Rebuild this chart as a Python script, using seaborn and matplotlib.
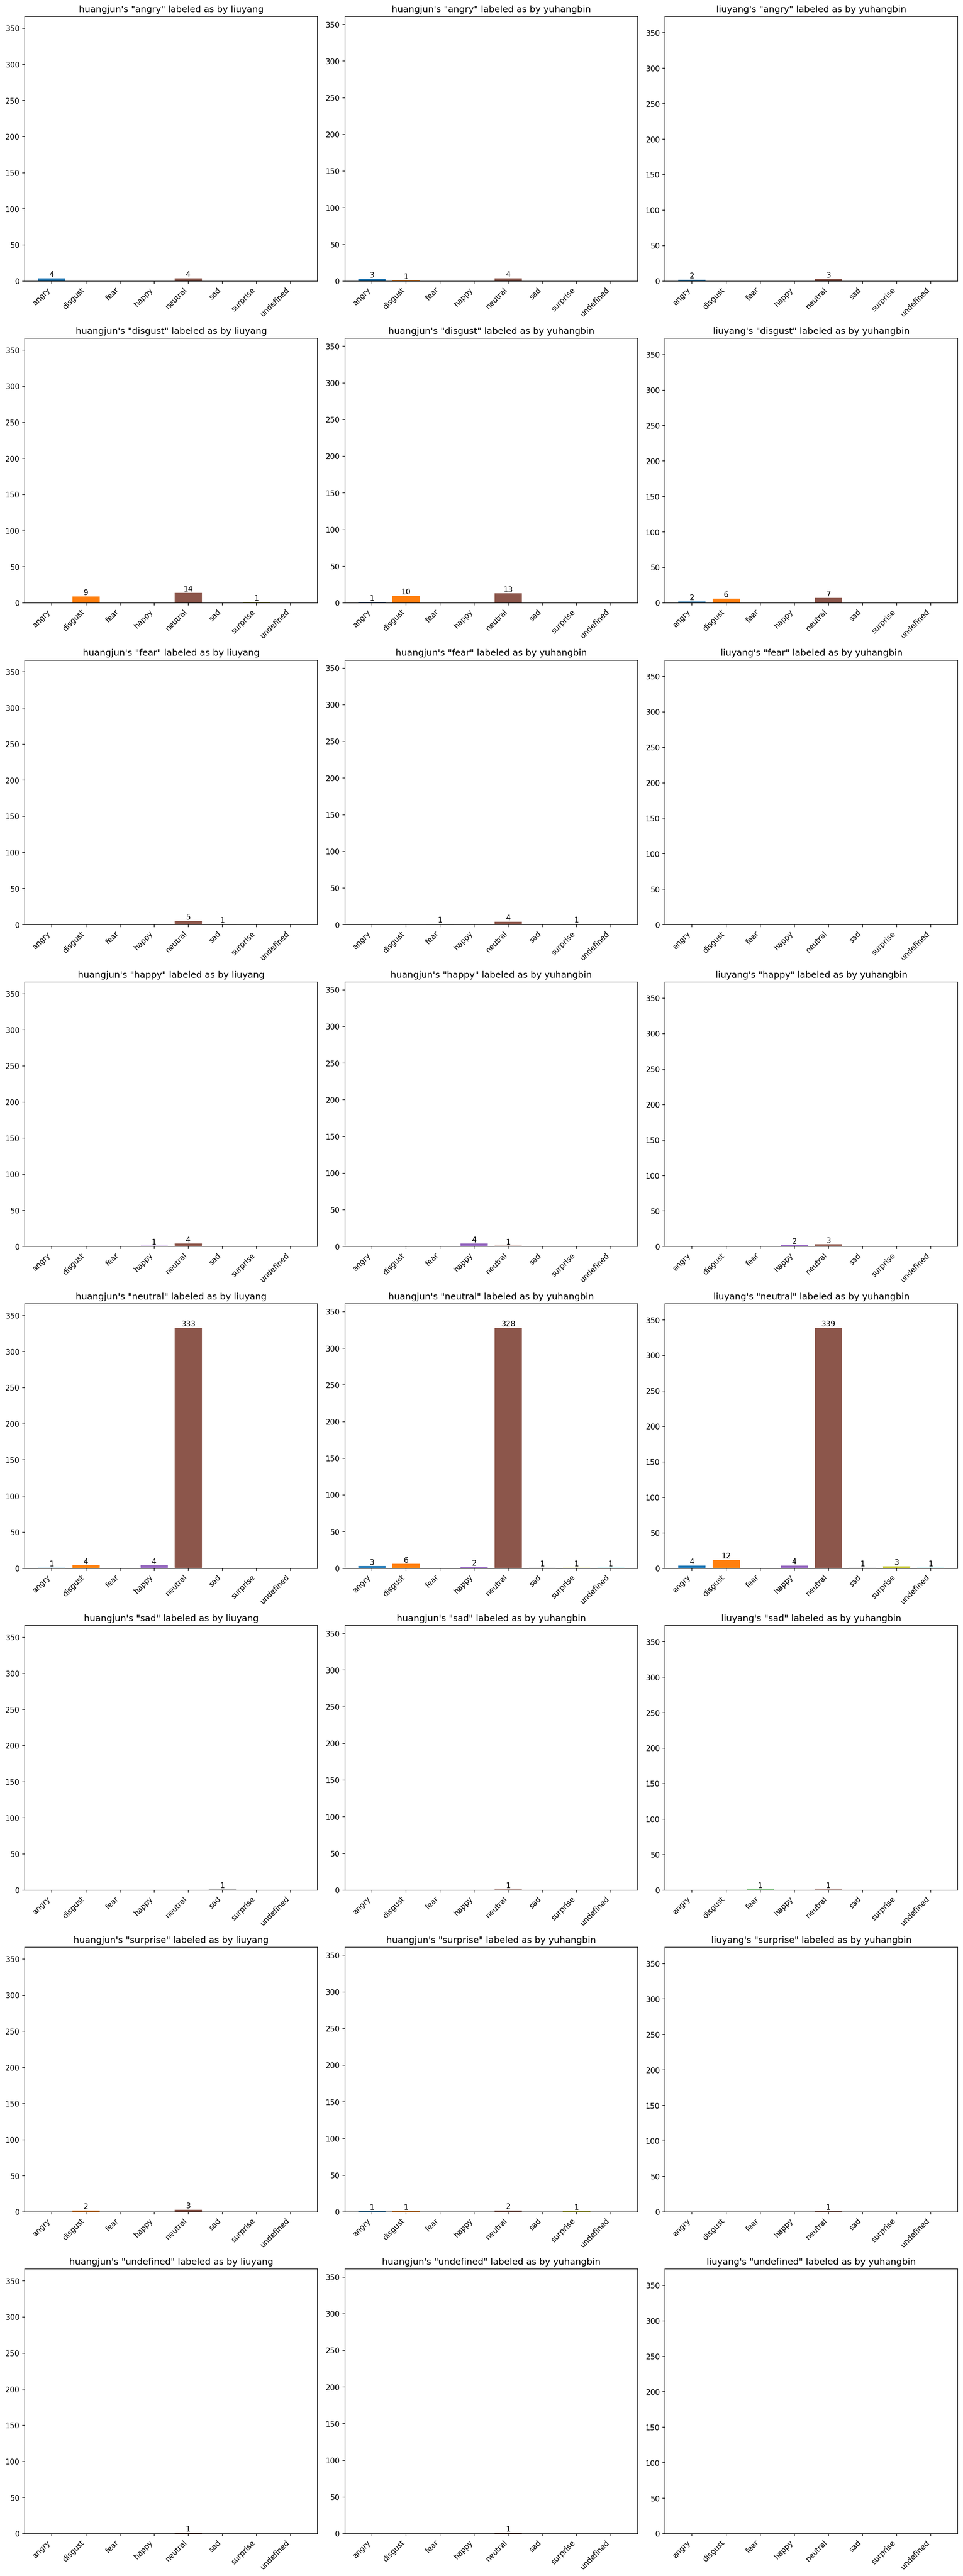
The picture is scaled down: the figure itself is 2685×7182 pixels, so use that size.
"""
Per-emotion label agreement between annotators, one bar chart per pair/emotion.
"""
import pandas as pd
import matplotlib
matplotlib.use("Agg")
import matplotlib.pyplot as plt
import seaborn as sns

EMOTIONS = ["angry", "disgust", "fear", "happy", "neutral", "sad", "surprise", "undefined"]
COLORS = ["tab:blue", "tab:orange", "tab:green", "tab:purple",
          "tab:brown", "tab:gray", "tab:olive", "tab:cyan"]
PAIRS = [("huangjun", "liuyang"), ("huangjun", "yuhangbin"), ("liuyang", "yuhangbin")]

# rows = emotion from first annotator, cols = how second annotator labeled it
hj_ly = [
    [4, 0, 0, 0, 4, 0, 0, 0],
    [0, 9, 0, 0, 14, 0, 1, 0],
    [0, 0, 0, 0, 5, 1, 0, 0],
    [0, 0, 0, 1, 4, 0, 0, 0],
    [1, 4, 0, 4, 333, 0, 0, 0],
    [0, 0, 0, 0, 0, 1, 0, 0],
    [0, 2, 0, 0, 3, 0, 0, 0],
    [0, 0, 0, 0, 1, 0, 0, 0],
]
hj_yb = [
    [3, 1, 0, 0, 4, 0, 0, 0],
    [1, 10, 0, 0, 13, 0, 0, 0],
    [0, 0, 1, 0, 4, 0, 1, 0],
    [0, 0, 0, 4, 1, 0, 0, 0],
    [3, 6, 0, 2, 328, 1, 1, 1],
    [0, 0, 0, 0, 1, 0, 0, 0],
    [1, 1, 0, 0, 2, 0, 1, 0],
    [0, 0, 0, 0, 1, 0, 0, 0],
]
ly_yb = [
    [2, 0, 0, 0, 3, 0, 0, 0],
    [2, 6, 0, 0, 7, 0, 0, 0],
    [0, 0, 0, 0, 0, 0, 0, 0],
    [0, 0, 0, 2, 3, 0, 0, 0],
    [4, 12, 0, 4, 339, 1, 3, 1],
    [0, 0, 1, 0, 1, 0, 0, 0],
    [0, 0, 0, 0, 1, 0, 0, 0],
    [0, 0, 0, 0, 0, 0, 0, 0],
]
TABLES = [hj_ly, hj_yb, ly_yb]

palette = dict(zip(EMOTIONS, COLORS))
fig, axes = plt.subplots(len(EMOTIONS), len(PAIRS), figsize=(18, 48))

for c, ((a, b), table) in enumerate(zip(PAIRS, TABLES)):
    ymax = max(max(r) for r in table) * 1.1
    for r, emo in enumerate(EMOTIONS):
        ax = axes[r, c]
        df = pd.DataFrame({"label": EMOTIONS, "count": table[r]})
        sns.barplot(data=df, x="label", y="count", hue="label", palette=palette,
                    saturation=1, legend=False, width=0.8, ax=ax)
        for cont in ax.containers:
            h = cont.datavalues[0]
            if h > 0:
                ax.bar_label(cont, labels=[f"{int(h)}"], fontsize=10)
        ax.set_title(f"{a}'s \"{emo}\" labeled as by {b}")
        ax.set_xlim(-0.79, len(EMOTIONS) - 0.21)
        ax.set_ylim(0, ymax)
        ax.set_xlabel("")
        ax.set_ylabel("")
        ax.set_xticks(range(len(EMOTIONS)))
        ax.set_xticklabels(EMOTIONS, rotation=45, ha="right")

fig.tight_layout()
fig.savefig("out.png", dpi=150, bbox_inches="tight")
plt.close(fig)
